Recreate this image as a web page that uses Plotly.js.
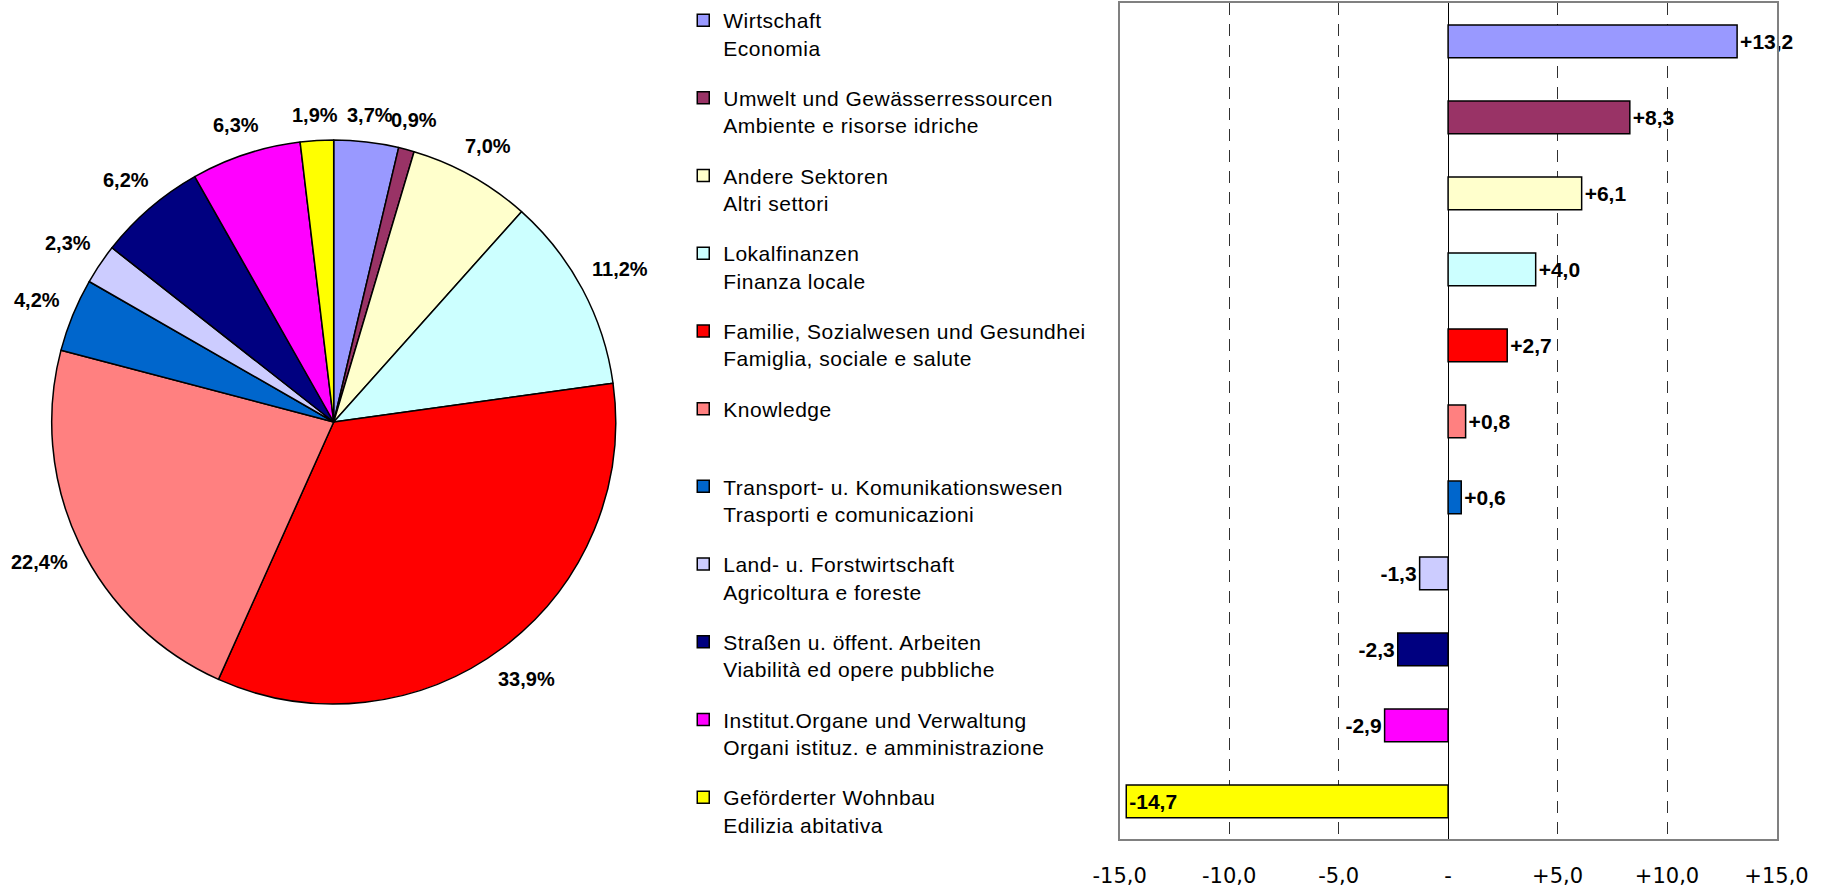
<!DOCTYPE html>
<html><head><meta charset="utf-8">
<script src="https://cdn.plot.ly/plotly-3.0.1.min.js"></script>
<style>html,body{margin:0;padding:0;background:#fff}#chart{width:1823px;height:888px}.legendtext{letter-spacing:0.5px}</style>
</head><body><div id="chart"></div>
<script>
// ---- data ----
const labelsDE = ['Wirtschaft','Umwelt und Gewässerressourcen','Andere Sektoren','Lokalfinanzen','Familie, Sozialwesen und Gesundhei','Knowledge','Transport- u. Komunikationswesen','Land- u. Forstwirtschaft','Straßen u. öffent. Arbeiten','Institut.Organe und Verwaltung','Geförderter Wohnbau'];
const labelsIT = ['Economia','Ambiente e risorse idriche','Altri settori','Finanza locale','Famiglia, sociale e salute','','Trasporti e comunicazioni','Agricoltura e foreste','Viabilità ed opere pubbliche','Organi istituz. e amministrazione','Edilizia abitativa'];
const sharePct = [3.7,0.9,7.0,11.2,33.9,22.4,4.2,2.3,6.2,6.3,1.9];
const changeVal = [13.2,8.3,6.1,4.0,2.7,0.8,0.6,-1.3,-2.3,-2.9,-14.7];
const colors = ['#9999FF','#993366','#FFFFCC','#CCFFFF','#FF0000','#FF8080','#0066CC','#CCCCFF','#000080','#FF00FF','#FFFF00'];
const xTickVals = [-15,-10,-5,0,5,10,15];
const xTickText = ['-15,0','-10,0','-5,0','-','+5,0','+10,0','+15,0'];

// ---- helpers ----
const fmtPct = v => v.toFixed(1).replace('.', ',') + '%';
const fmtSigned = v => (v > 0 ? '+' : '') + v.toFixed(1).replace('.', ',');
const FONT = 'Liberation Sans, Arial, sans-serif';
const W = 1823, H = 888;
const X_MIN = -15, X_MAX = 15;
const PIE_DOMAIN = {x: [0.02836, 0.33774], y: [0.20721, 0.84234]};
const LABEL_GAP = 13, LABEL_SIZE = 20;

const traces = [];
traces.push({
  type: 'pie',
  values: sharePct,
  labels: labelsDE,
  sort: false,
  direction: 'clockwise',
  rotation: 0,
  marker: {colors: colors, line: {color: '#000', width: 1.5}},
  textinfo: 'none',
  domain: PIE_DOMAIN,
  showlegend: false,
  hoverinfo: 'label+percent'
});

changeVal.forEach((v, i) => {
  const nearEdge = (v - X_MIN) < 2;
  traces.push({
    type: 'bar',
    orientation: 'h',
    x: [v],
    y: [labelsDE[i]],
    name: labelsDE[i] + '<br>' + (labelsIT[i] || ' '),
    legendgroup: 'g' + i,
    marker: {color: colors[i], line: {color: '#000', width: 1.5}},
    text: [fmtSigned(v)],
    textposition: nearEdge ? 'inside' : 'outside',
    insidetextanchor: 'end',
    constraintext: 'none',
    cliponaxis: false,
    textfont: {family: FONT, size: 21, weight: 'bold', color: '#000'},
    insidetextfont: {family: FONT, size: 21, weight: 'bold', color: '#000'},
    outsidetextfont: {family: FONT, size: 21, weight: 'bold', color: '#000'},
    hoverinfo: 'x+name'
  });
});

// pie labels placed just outside the rim at each slice's mid-angle (derived from the shares)
const ctx = document.createElement('canvas').getContext('2d');
ctx.font = 'bold ' + LABEL_SIZE + 'px "Liberation Sans", Arial, sans-serif';
const pcx = (PIE_DOMAIN.x[0] + PIE_DOMAIN.x[1]) / 2 * W;
const pcy = (1 - (PIE_DOMAIN.y[0] + PIE_DOMAIN.y[1]) / 2) * H;
const pr = Math.min((PIE_DOMAIN.x[1] - PIE_DOMAIN.x[0]) * W, (PIE_DOMAIN.y[1] - PIE_DOMAIN.y[0]) * H) / 2;
const total = sharePct.reduce((a, b) => a + b, 0);
let cum = 0;
const annotations = sharePct.map(v => {
  const mid = (cum + v / 2) / total; cum += v;
  const th = 2 * Math.PI * mid;
  const sx = Math.sin(th), sy = -Math.cos(th);
  const txt = fmtPct(v);
  const hw = ctx.measureText(txt).width / 2, hh = LABEL_SIZE * 0.58;
  const d = pr + LABEL_GAP + hw * Math.abs(sx) + hh * Math.abs(sy);
  const px = pcx + sx * d, py = pcy + sy * d;
  return {xref: 'paper', yref: 'paper', x: px / W, y: 1 - py / H, xanchor: 'center', yanchor: 'middle',
          text: txt, showarrow: false, font: {family: FONT, size: LABEL_SIZE, weight: 'bold', color: '#000'}};
});

const layout = {
  width: W, height: H,
  margin: {l: 0, r: 0, t: 0, b: 0},
  paper_bgcolor: '#fff', plot_bgcolor: '#fff',
  separators: ',.',
  font: {family: FONT, size: 20, color: '#000'},
  showlegend: true,
  legend: {x: 0.3748, y: 1, xanchor: 'left', yanchor: 'top', font: {family: FONT, size: 21, color: '#000'},
           tracegroupgap: 20.1, valign: 'top', bgcolor: 'rgba(0,0,0,0)', borderwidth: 0},
  annotations: annotations,
  barmode: 'relative', bargap: 0.57,
  xaxis: {domain: [0.6142, 0.9745], range: [X_MIN, X_MAX], tickmode: 'array', tickvals: xTickVals, ticktext: xTickText,
          showgrid: true, gridcolor: '#303030', griddash: '12px,9px', gridwidth: 1,
          zeroline: true, zerolinecolor: '#000', zerolinewidth: 1,
          showline: true, mirror: true, linecolor: '#808080', linewidth: 2, ticks: '',
          tickfont: {family: 'DejaVu Sans, sans-serif', size: 21, color: '#000'}, ticklabelstandoff: 16, fixedrange: true},
  yaxis: {domain: [0.0547, 0.9961], type: 'category', categoryorder: 'array', categoryarray: labelsDE, autorange: 'reversed',
          showticklabels: false, showgrid: false, zeroline: false,
          showline: true, mirror: true, linecolor: '#808080', linewidth: 2, ticks: '', fixedrange: true}
};

Plotly.newPlot('chart', traces, layout, {displayModeBar: false, staticPlot: true});
</script>
</body></html>
